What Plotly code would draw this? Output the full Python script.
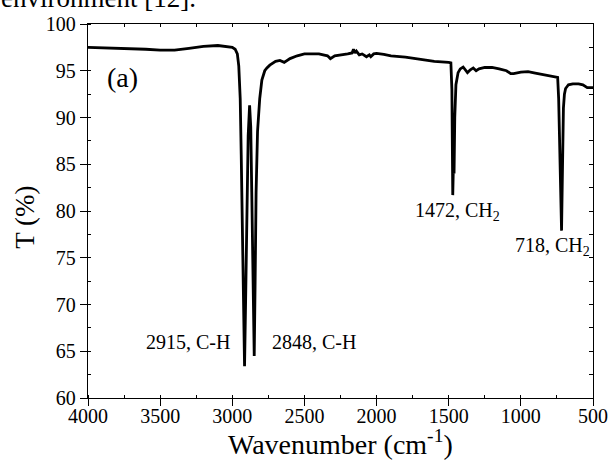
import plotly.graph_objects as go

wavenumber = [4000, 3900, 3800, 3700, 3600, 3500, 3400, 3300, 3200, 3100, 3050, 3000, 2980,
              2965, 2955, 2945, 2938, 2930, 2922, 2915, 2908, 2900, 2890, 2880, 2872, 2865,
              2858, 2852, 2848, 2842, 2835, 2825, 2810, 2795, 2775, 2760, 2740, 2700, 2670,
              2640, 2600, 2550, 2500, 2400, 2340, 2320, 2290, 2200, 2170, 2160, 2150, 2140,
              2120, 2100, 2070, 2050, 2040, 2020, 2000, 1950, 1900, 1800, 1700, 1600, 1500,
              1485, 1478, 1474, 1472, 1468, 1463, 1458, 1450, 1435, 1420, 1400, 1385, 1370,
              1350, 1330, 1310, 1290, 1250, 1200, 1150, 1100, 1070, 1050, 1000, 950, 900,
              850, 800, 760, 745, 738, 733, 730, 726, 722, 718, 714, 710, 705, 698, 690, 670,
              640, 600, 570, 540, 520, 500]
transmittance = [97.5, 97.45, 97.4, 97.4, 97.3, 97.2, 97.2, 97.4, 97.6, 97.7, 97.6, 97.5, 97.3,
                 96.8, 95.5, 92.0, 86.0, 76.0, 67.0, 63.4, 70.0, 80.0, 88.0, 91.3, 89.0, 82.0,
                 72.0, 66.0, 64.5, 72.0, 82.0, 88.5, 92.0, 94.0, 95.0, 95.3, 95.6, 96.0, 96.1,
                 95.9, 96.3, 96.6, 96.8, 96.8, 96.6, 96.3, 96.6, 96.8, 96.9, 97.3, 96.9, 97.1,
                 96.7, 96.8, 96.5, 96.7, 96.5, 96.8, 96.85, 96.75, 96.6, 96.45, 96.2, 96.0, 95.9,
                 95.85, 93.0, 85.0, 81.7, 84.5, 84.0, 90.0, 93.5, 94.8, 95.2, 95.4, 95.1, 94.8,
                 95.1, 95.3, 95.0, 95.2, 95.35, 95.35, 95.2, 95.0, 94.7, 94.7, 94.85, 94.9, 94.75,
                 94.6, 94.5, 94.4, 94.3, 92.0, 88.0, 85.6, 86.0, 82.0, 77.9, 82.0, 88.0, 91.0, 92.5,
                 93.1, 93.5, 93.6, 93.6, 93.5, 93.2, 93.2, 93.2]

x_ticks = [4000, 3500, 3000, 2500, 2000, 1500, 1000, 500]
y_ticks = [60, 65, 70, 75, 80, 85, 90, 95, 100]

peak_labels = ["2915, C-H", "2848, C-H", "1472, CH<sub>2</sub>", "718, CH<sub>2</sub>"]
label_x = [3002, 2739, 1745, 1052]
label_y = [66.0, 66.0, 79.9, 76.2]
label_anchor = ["right", "left", "left", "left"]

x_title = "Wavenumber (cm<sup>-1</sup>)"
y_title = "T (%)"

FONT = "Liberation Serif, Times New Roman, serif"

fig = go.Figure()
fig.add_trace(go.Scatter(x=wavenumber, y=transmittance, mode="lines",
                         line=dict(color="black", width=2.8), hoverinfo="skip",
                         showlegend=False))
# invisible trace to draw mirrored top/right axes with inward ticks
fig.add_trace(go.Scatter(x=wavenumber, y=transmittance, mode="lines", xaxis="x2", yaxis="y2",
                         line=dict(color="rgba(0,0,0,0)", width=0), hoverinfo="skip",
                         showlegend=False))

for txt, xv, yv, anc in zip(peak_labels, label_x, label_y, label_anchor):
    fig.add_annotation(x=xv, y=yv, xref="x", yref="y", text=txt, showarrow=False,
                       xanchor=anc, yanchor="middle", font=dict(family=FONT, size=20, color="black"))

fig.add_annotation(x=3880, y=94.3, xref="x", yref="y", text="(a)", showarrow=False,
                   xanchor="left", yanchor="middle", font=dict(family=FONT, size=28, color="black"))

# axis titles
fig.add_annotation(x=0.5, y=-0.12, xref="paper", yref="paper", text=x_title, showarrow=False,
                   xanchor="center", yanchor="middle", font=dict(family=FONT, size=28, color="black"))
fig.add_annotation(x=-0.125, y=0.484, xref="paper", yref="paper", text=y_title, showarrow=False,
                   textangle=-90, xanchor="center", yanchor="middle",
                   font=dict(family=FONT, size=27, color="black"))

# cropped caption text at the top edge of the page
fig.add_annotation(x=-0.176, y=1.0695, xref="paper", yref="paper", text="environment [12].",
                   showarrow=False, xanchor="left", yanchor="middle",
                   font=dict(family=FONT, size=27, color="black"))

axis_common = dict(showgrid=False, zeroline=False, linecolor="black", linewidth=1.2,
                   tickcolor="black", automargin=False,
                   tickfont=dict(family=FONT, size=20, color="black"))

fig.update_layout(
    width=609, height=468,
    margin=dict(l=88, r=16, t=24, b=70),
    plot_bgcolor="white", paper_bgcolor="white",
    font=dict(family=FONT, color="black"),
    xaxis=dict(range=[4000, 500], tickvals=x_ticks, ticks="outside", ticklen=7, tickwidth=1,
               showline=True, mirror=False, ticklabelstandoff=-7,
               minor=dict(dtick=250, tick0=0, ticks="inside", ticklen=3, tickcolor="black", tickwidth=1),
               **axis_common),
    yaxis=dict(range=[60, 100], tickvals=y_ticks, ticks="outside", ticklen=7, tickwidth=1,
               showline=True, mirror=False,
               minor=dict(dtick=2.5, tick0=0, ticks="inside", ticklen=3, tickcolor="black", tickwidth=1),
               **axis_common),
    xaxis2=dict(range=[4000, 500], overlaying="x", side="top", showticklabels=False,
                tickvals=list(range(500, 4001, 250)), ticks="inside", ticklen=3, tickwidth=1,
                showline=True, showgrid=False, zeroline=False, linecolor="black", linewidth=1.2,
                tickcolor="black", automargin=False),
    yaxis2=dict(range=[60, 100], overlaying="y", side="right", showticklabels=False,
                tickvals=[60 + 2.5 * i for i in range(17)], ticks="inside", ticklen=4, tickwidth=1,
                showline=True, showgrid=False, zeroline=False, linecolor="black", linewidth=1.2,
                tickcolor="black", automargin=False),
)

fig.write_html("out.html", config={"displayModeBar": False, "staticPlot": True},
               post_script="document.body.style.margin='0px';document.body.style.padding='0px';")
